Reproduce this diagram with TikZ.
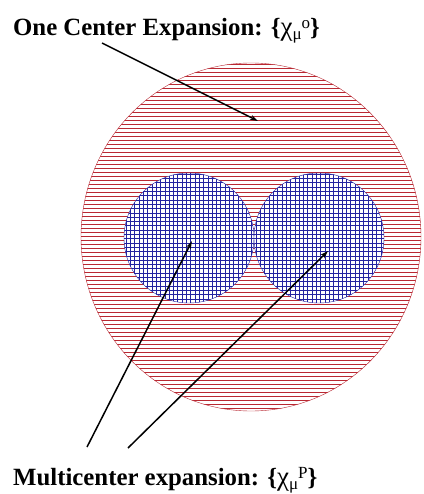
\documentclass[tikz,border=0pt]{standalone}
\usepackage{fontspec}
\setmainfont{Liberation Serif}
\usetikzlibrary{arrows.meta}
\definecolor{HatchRed}{RGB}{185, 40, 50}
\definecolor{HatchBlue}{RGB}{35, 35, 160}

\newcommand{\idx}[2]{%
    {\mdseries\fontsize{27}{27}\selectfont χ}\raisebox{-4pt}{\fontsize{17}{17}\selectfont\mdseries μ}%
    \raisebox{7pt}{\fontsize{17}{17}\selectfont\mdseries #1}#2}

\begin{document}
\begin{tikzpicture}[
    x=1pt, y=-1pt,
    label/.style={
        anchor=base west, inner sep=0pt,
        font=\fontsize{24.8}{26}\selectfont\bfseries
    },
    redline/.style={HatchRed, line width=0.9pt},
    blueline/.style={HatchBlue, line width=0.9pt},
    arr/.style={-{Stealth[length=8pt, width=5pt]}, line width=1.5pt, black},
]
\useasboundingbox (0, 0) rectangle (423, 494);

%% One center region
\begin{scope}
    \clip (251, 237) ellipse [x radius=170, y radius=174];
    \foreach \y in {64, 68, ..., 412}
        \draw[redline] (80, \y) -- (422, \y);
\end{scope}
\draw[HatchRed, thin] (251, 237) ellipse [x radius=170, y radius=174];

%% Multicenter regions
\foreach \cx/\name in {189/left, 319/right} {
    \fill[white] (\cx, 238) circle [radius=65];
    \begin{scope}
        \clip (\cx, 238) circle [radius=65];
        \foreach \i in {0, ..., 31} {
            \draw[blueline] (\cx - 67 + 4.3*\i, 170) -- (\cx - 67 + 4.3*\i, 306);
            \draw[blueline] (\cx - 67, 170 + 4.3*\i) -- (\cx + 67, 170 + 4.3*\i);
        }
    \end{scope}
    \draw[HatchBlue, thin] (\cx, 238) circle [radius=65];
}

%% Labels
\node[label] (one) at (13, 36)
    {One Center Expansion: \{\idx{o}{}\}};
\node[label] (multi) at (13, 485)
    {Multicenter expansion: \{\idx{P}{}\}};

%% Pointers
\coordinate (onestart) at (102, 43);
\coordinate (onetip) at (258, 121);
\coordinate (lstart) at (87, 447);
\coordinate (ltip) at (192, 241);
\coordinate (rstart) at (128, 448);
\coordinate (rtip) at (328, 251);

\draw[arr] (onestart) -- (onetip);
\draw[arr] (lstart) -- (ltip);
\draw[arr] (rstart) -- (rtip);

\end{tikzpicture}
\end{document}
